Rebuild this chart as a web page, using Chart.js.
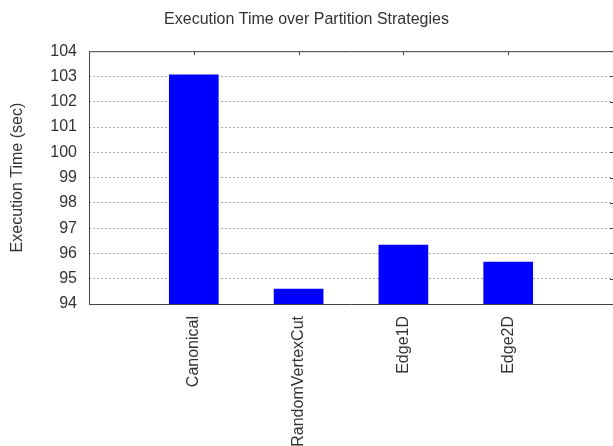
<!DOCTYPE html>
<html>
<head>
<meta charset="utf-8">
<script src="https://cdn.jsdelivr.net/npm/chart.js@4"></script>
<style>
  body { margin: 0; background: #fff; }
  #c { display: block; }
</style>
</head>
<body>
<canvas id="c" width="613" height="446"></canvas>
<script>
// partition strategies and measured execution time (sec)
const strategies = ['Canonical', 'RandomVertexCut', 'Edge1D', 'Edge2D'];
const execTimes = [103.07, 94.59, 96.33, 95.66];
const yTicks = [94, 95, 96, 97, 98, 99, 100, 101, 102, 103, 104];

// empty slot on each side, like the gnuplot x range
const labels = [''].concat(strategies, ['']);
const values = [null].concat(execTimes, [null]);

const frame = {
  id: 'frame',
  afterDatasetsDraw(chart) {
    const { ctx, chartArea: a, scales } = chart;
    ctx.save();
    ctx.strokeStyle = '#444';
    ctx.lineWidth = 1;
    ctx.beginPath();
    ctx.rect(a.left + 0.5, a.top + 0.5, a.right - a.left, a.bottom - a.top);
    // mirror ticks on top
    for (let i = 1; i <= strategies.length; i++) {
      const px = Math.round(scales.x.getPixelForValue(i)) + 0.5;
      ctx.moveTo(px, a.top);
      ctx.lineTo(px, a.top + 4);
    }
    // mirror ticks on right
    yTicks.forEach(v => {
      const py = Math.round(scales.y.getPixelForValue(v)) + 0.5;
      ctx.moveTo(a.right - 3, py);
      ctx.lineTo(a.right, py);
    });
    ctx.stroke();
    ctx.restore();
  }
};

new Chart(document.getElementById('c'), {
  type: 'bar',
  data: {
    labels: labels,
    datasets: [{
      data: values,
      backgroundColor: '#0000ff',
      barThickness: 49
    }]
  },
  options: {
    responsive: false,
    animation: false,
    layout: { padding: { left: 0, right: 0, top: 0, bottom: 0 } },
    font: { family: '"Liberation Sans", Arial, sans-serif', size: 16 },
    plugins: {
      legend: { display: false },
      tooltip: { enabled: false },
      title: {
        display: true,
        text: 'Execution Time over Partition Strategies',
        color: '#333',
        font: { family: '"Liberation Sans", Arial, sans-serif', size: 16, weight: 'normal' },
        padding: { top: 10, bottom: 22 }
      }
    },
    scales: {
      x: {
        offset: false,
        grid: { display: false, drawTicks: false },
        border: { display: false },
        ticks: {
          autoSkip: false,
          maxRotation: 90,
          minRotation: 90,
          padding: 12,
          color: '#333',
          font: { family: '"Liberation Sans", Arial, sans-serif', size: 16 }
        },
        afterFit(scale) {
          scale.height = 142;
          scale.paddingLeft = 0;
          scale.paddingRight = 0;
        }
      },
      y: {
        min: 94,
        max: 104,
        grid: { color: '#a8a8a8', drawTicks: false },
        border: { display: false, dash: [2, 2] },
        ticks: {
          stepSize: 1,
          padding: 12,
          color: '#333',
          font: { family: '"Liberation Sans", Arial, sans-serif', size: 16 }
        },
        title: {
          display: true,
          text: 'Execution Time (sec)',
          color: '#333',
          font: { family: '"Liberation Sans", Arial, sans-serif', size: 16 },
          padding: { top: 8, bottom: 0 }
        },
        afterFit(scale) { scale.width = 89; }
      }
    }
  },
  plugins: [frame]
});
</script>
</body>
</html>
